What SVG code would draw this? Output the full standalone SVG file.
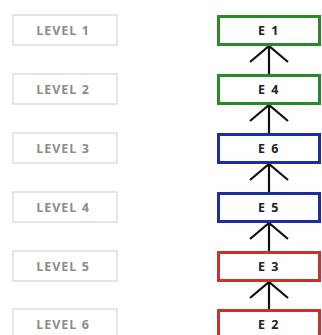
<svg xmlns="http://www.w3.org/2000/svg" width="322" height="335" viewBox="0 0 322 335">
<style>
.lv rect{fill:#fff;stroke:#d4d4d4;stroke-width:1.2}
.lv text{font-family:"Open Sans","Liberation Sans",sans-serif;font-weight:bold;font-size:12.5px;letter-spacing:1px;fill:#8c8c8c;text-anchor:middle;dominant-baseline:central}
.e rect{fill:#fff;stroke-width:3}
.e text{font-family:"Open Sans","Liberation Sans",sans-serif;font-weight:bold;font-size:12.5px;letter-spacing:1.5px;fill:#222;text-anchor:middle;dominant-baseline:central}
.g rect{stroke:#2a8a2a}
.b rect{stroke:#1c2ea0}
.r rect{stroke:#c8322a}
#connectors path{fill:none;stroke:#111;stroke-width:2.2}
</style>
<rect width="322" height="335" fill="#fff"/>
<g id="level1" class="lv"><rect x="13" y="15" width="104" height="30"/><text x="63" y="30">LEVEL 1</text></g>
<g id="level2" class="lv"><rect x="13" y="74" width="104" height="30"/><text x="63" y="89">LEVEL 2</text></g>
<g id="level3" class="lv"><rect x="13" y="133" width="104" height="30"/><text x="63" y="148">LEVEL 3</text></g>
<g id="level4" class="lv"><rect x="13" y="192" width="104" height="30"/><text x="63" y="207">LEVEL 4</text></g>
<g id="level5" class="lv"><rect x="13" y="251" width="104" height="30"/><text x="63" y="266">LEVEL 5</text></g>
<g id="level6" class="lv"><rect x="13" y="309" width="104" height="30"/><text x="63" y="324">LEVEL 6</text></g>
<g id="connectors">
<path d="M269 74V46M250 62L269 46L288 62"/>
<path d="M269 133V105M250 121L269 105L288 121"/>
<path d="M269 192V164M250 180L269 164L288 180"/>
<path d="M269 251V223M250 239L269 223L288 239"/>
<path d="M269 309V282M250 298L269 282L288 298"/>
</g>
<g id="E1" class="e g"><rect x="218.5" y="16.5" width="101" height="28"/><text x="269" y="30.5">E 1</text></g>
<g id="E4" class="e g"><rect x="218.5" y="75.5" width="101" height="28"/><text x="269" y="89.5">E 4</text></g>
<g id="E6" class="e b"><rect x="218.5" y="134.5" width="101" height="28"/><text x="269" y="148.5">E 6</text></g>
<g id="E5" class="e b"><rect x="218.5" y="193.5" width="101" height="28"/><text x="269" y="207.5">E 5</text></g>
<g id="E3" class="e r"><rect x="218.5" y="252.5" width="101" height="28"/><text x="269" y="266.5">E 3</text></g>
<g id="E2" class="e r"><rect x="218.5" y="310.5" width="101" height="28"/><text x="269" y="324.5">E 2</text></g>
</svg>
